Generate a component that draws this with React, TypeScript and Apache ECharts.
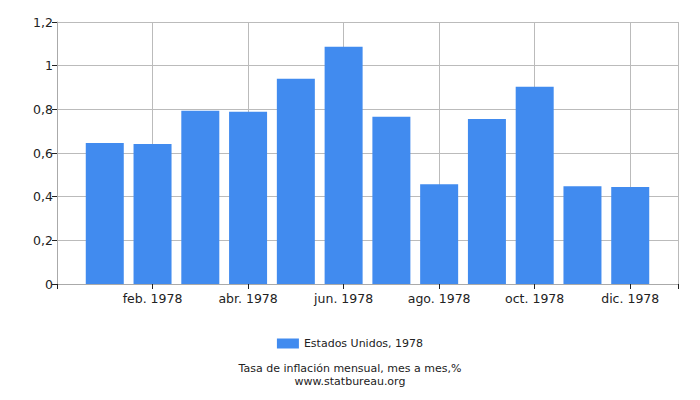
import React, { useEffect, useRef } from 'react';
import * as echarts from 'echarts';

const months = [
  'ene. 1978', 'feb. 1978', 'mar. 1978', 'abr. 1978', 'may. 1978', 'jun. 1978',
  'jul. 1978', 'ago. 1978', 'sep. 1978', 'oct. 1978', 'nov. 1978', 'dic. 1978',
];
const inflation = [0.646, 0.641, 0.793, 0.789, 0.94, 1.087, 0.766, 0.457, 0.756, 0.903, 0.448, 0.444];
const seriesName = 'Estados Unidos, 1978';
const yTicks = [0, 0.2, 0.4, 0.6, 0.8, 1, 1.2];

const font = 'DejaVu Sans';

const App: React.FC = () => {
  const chartRef = useRef<HTMLDivElement>(null);

  useEffect(() => {
    if (!chartRef.current) return;
    const chart = echarts.init(chartRef.current, undefined, { renderer: 'svg' });

    // bars sit on positions 1..12, axis runs 0..13
    const barData = inflation.map((v, i) => [i + 1, v]);

    const option = {
      animation: false,
      textStyle: { fontFamily: font },
      grid: { left: 57, right: 22, top: 22, bottom: 116 },
      legend: {
        data: [seriesName],
        top: 333,
        left: 'center',
        itemWidth: 22,
        itemHeight: 10,
        icon: 'rect',
        itemGap: 6,
        textStyle: { color: '#222', fontSize: 11, fontFamily: font },
      },
      xAxis: {
        type: 'value',
        min: 0,
        max: 13,
        interval: 2,
        axisLine: { show: true, lineStyle: { color: '#aaa' } },
        axisTick: { show: true, length: 5, lineStyle: { color: '#222' } },
        splitLine: { show: true, lineStyle: { color: '#bbb' } },
        axisLabel: {
          color: '#222',
          fontSize: 12.5,
          margin: 8,
          formatter: (v: number) => (v >= 1 && v <= 12 ? months[v - 1] : ''),
        },
      },
      yAxis: {
        type: 'value',
        min: yTicks[0],
        max: yTicks[yTicks.length - 1],
        interval: 0.2,
        axisLine: { show: true, lineStyle: { color: '#aaa' } },
        axisTick: { show: true, length: 5, lineStyle: { color: '#222' } },
        splitLine: { show: true, lineStyle: { color: '#bbb' } },
        axisLabel: {
          color: '#222',
          fontSize: 12.5,
          margin: 4,
          formatter: (v: number) => String(Math.round(v * 10) / 10).replace('.', ','),
        },
      },
      series: [
        {
          name: seriesName,
          type: 'bar',
          data: barData,
          barWidth: 38,
          itemStyle: { color: '#418bef' },
        },
      ],
      graphic: [
        {
          type: 'text',
          left: 'center',
          top: 363,
          style: { text: 'Tasa de inflación mensual, mes a mes,%', fill: '#222', fontSize: 11, fontFamily: font },
        },
        {
          type: 'text',
          left: 'center',
          top: 376,
          style: { text: 'www.statbureau.org', fill: '#222', fontSize: 11, fontFamily: font },
        },
      ],
    };

    chart.setOption(option);
    return () => chart.dispose();
  }, []);

  return (
    <div
      ref={chartRef}
      style={{ position: 'fixed', left: 0, top: 0, width: '700px', height: '400px', background: '#fff' }}
    ></div>
  );
};

export default App;
